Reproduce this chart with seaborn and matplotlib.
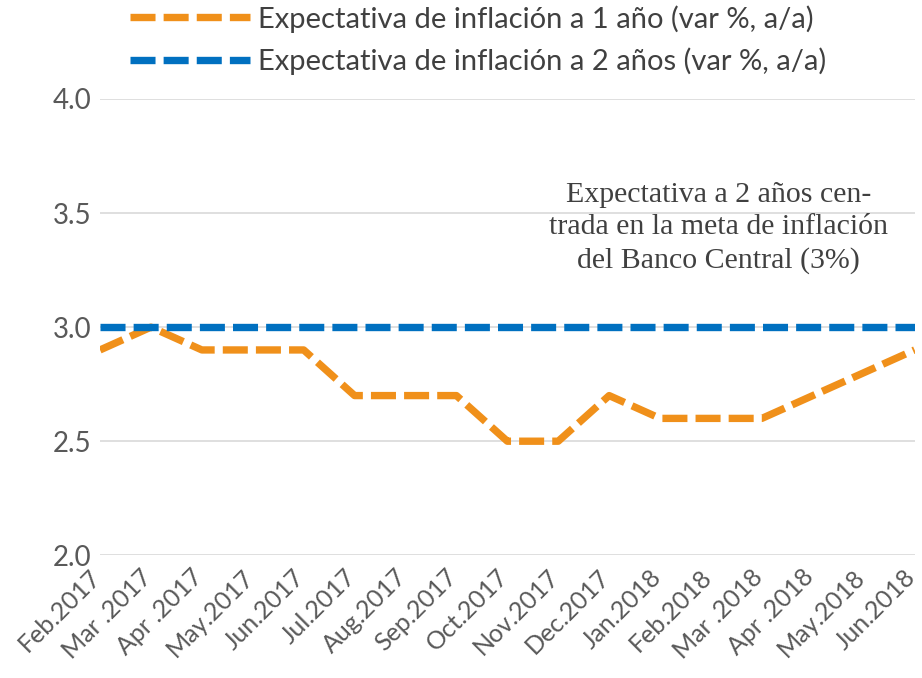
import pandas as pd
import seaborn as sns
import matplotlib.pyplot as plt
from matplotlib import transforms

# Monthly data
months = ['Feb.2017', 'Mar .2017', 'Apr .2017', 'May.2017', 'Jun.2017', 'Jul.2017',
          'Aug.2017', 'Sep.2017', 'Oct.2017', 'Nov.2017', 'Dec.2017', 'Jan.2018',
          'Feb.2018', 'Mar .2018', 'Apr .2018', 'May.2018', 'Jun.2018']
exp_1y = [2.9, 3.0, 2.9, 2.9, 2.9, 2.7, 2.7, 2.7, 2.5, 2.5, 2.7, 2.6, 2.6, 2.6, 2.7, 2.8, 2.9]
exp_2y = [3.0] * 17

label_1y = 'Expectativa de inflación a 1 año (var %, a/a)'
label_2y = 'Expectativa de inflación a 2 años (var %, a/a)'

df = pd.DataFrame({'mes': range(len(months)), 'uno': exp_1y, 'dos': exp_2y})

sns.set_style('white')
plt.rcParams['font.family'] = ['Lato', 'DejaVu Sans']

fig = plt.figure(figsize=(9.22, 6.78), dpi=100)
ax = fig.add_axes([0.1085, 0.181, 0.8835, 0.673])

sns.lineplot(data=df, x='mes', y='uno', ax=ax, color='#F0901A', linewidth=5.3,
             label=label_1y, legend=False)
sns.lineplot(data=df, x='mes', y='dos', ax=ax, color='#0070C0', linewidth=5.3,
             label=label_2y, legend=False)
for ln in ax.lines:
    ln.set_dashes([3.4, 1.1])
    ln.set_dash_capstyle('butt')

ax.set_xlim(0, len(months) - 1)
ax.set_ylim(2.0, 4.0)
ax.set_yticks([2.0, 2.5, 3.0, 3.5, 4.0])
ax.set_yticklabels(['2.0', '2.5', '3.0', '3.5', '4.0'])
ax.set_xticks(range(len(months)))
ax.set_xticklabels(months, rotation=45, ha='right', rotation_mode='anchor')
ax.tick_params(axis='y', colors='#595959', labelsize=20, length=0, pad=6)
ax.tick_params(axis='x', colors='#595959', labelsize=18, length=0, pad=7)
# nudge month labels a little to the left so the last one fits
shift = transforms.ScaledTranslation(-11 / 100, 0, fig.dpi_scale_trans)
for lbl in ax.get_xticklabels():
    lbl.set_transform(lbl.get_transform() + shift)
ax.grid(axis='y', color='#D9D9D9', linewidth=1.2)
ax.set_axisbelow(True)
sns.despine(ax=ax, left=True, bottom=True, top=True, right=True)
ax.set_xlabel('')
ax.set_ylabel('')

ax.text(12.15, 3.435, 'Expectativa a 2 años cen-\ntrada en la meta de inflación\ndel Banco Central (3%)',
        ha='center', va='center', fontsize=21.5, color='#404040',
        family='Liberation Serif', linespacing=1.32)

handles, labels = ax.get_legend_handles_labels()
leg = fig.legend(handles, labels, loc='upper left', bbox_to_anchor=(130 / 922, 1 - 5 / 678),
                 frameon=False, fontsize=21, handlelength=4.1, handletextpad=0.28,
                 labelspacing=0.52, borderpad=0, borderaxespad=0)
for t in leg.get_texts():
    t.set_color('#404040')

plt.savefig('out.png', dpi=100)
